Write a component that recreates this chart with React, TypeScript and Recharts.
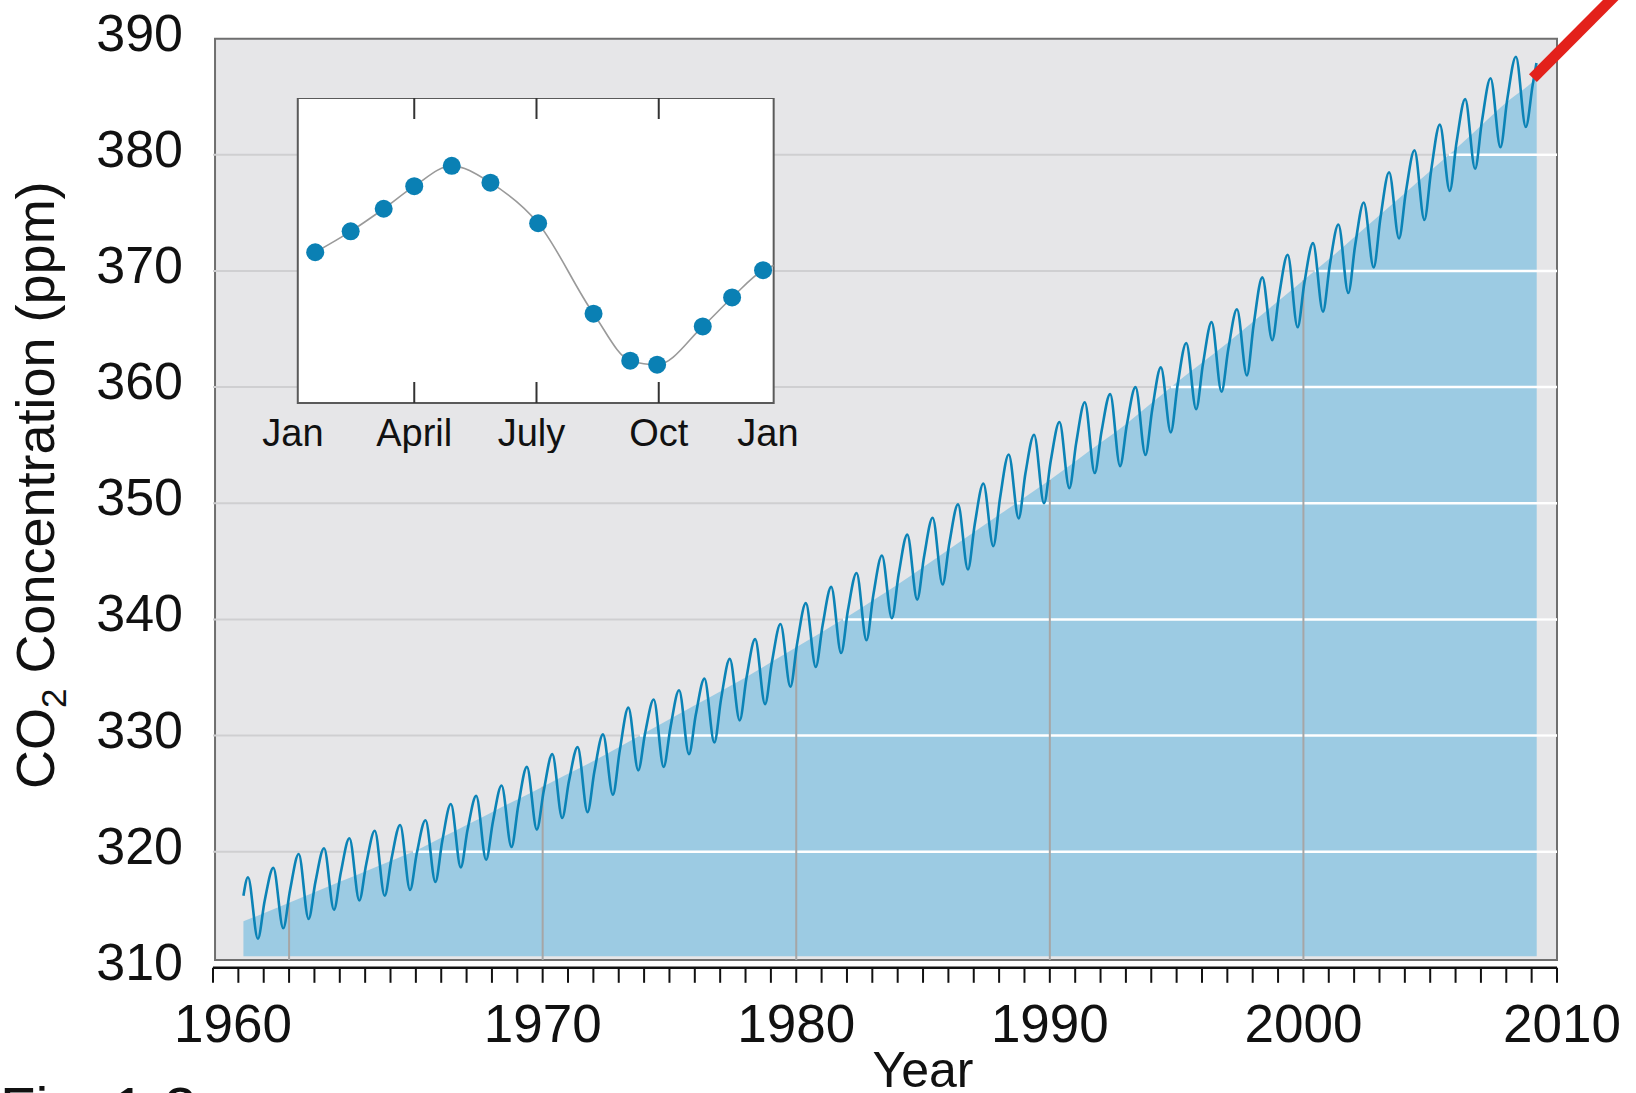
import React from 'react';
import {
  ComposedChart,
  LineChart,
  Line,
  Area,
  XAxis,
  YAxis,
  CartesianGrid,
  ReferenceArea,
  ReferenceLine,
} from 'recharts';

const FONT = '"Liberation Sans", Arial, Helvetica, sans-serif';
const BG = '#e6e6e8';
const FILL = '#9ccbe3';
const LINE = '#0b83b6';
const DOT = '#0a80b4';
const GRID_GRAY = '#cfcfd1';
const VGRID = '#a6a6a6';
const FRAME = '#6f6f6f';

// Monthly CO2 record (ppm)
const startPoint = { x: 1958.2, v: 316.2 };
const endPoint = { x: 2009.19, v: 387.9 };
const firstYear = 1958;
// May maxima, 1958-2008
const mayPeaks = [
  317.8, 318.6, 319.8, 320.3, 321.15, 321.8, 322.3, 322.7, 324.1, 324.8,
  325.7, 327.3, 328.4, 329.0, 330.1, 332.4, 333.1, 333.9, 334.9, 336.6,
  338.3, 339.6, 341.4, 342.8, 344.0, 345.5, 347.3, 348.75, 349.9, 351.7,
  354.2, 355.9, 357.0, 358.7, 359.4, 360.0, 361.7, 363.8, 365.6, 366.7,
  369.45, 371.4, 372.4, 374.0, 375.9, 378.5, 380.4, 382.6, 384.8, 386.6,
  388.45,
];
// October minima, 1958-2008
const octLows = [
  312.5, 313.4, 314.2, 315.0, 315.8, 316.2, 316.7, 317.4, 318.65, 319.3,
  320.4, 321.9, 322.9, 323.4, 324.9, 327.0, 327.3, 328.4, 329.4, 331.3,
  332.7, 334.2, 335.9, 337.1, 338.2, 340.1, 341.7, 343.0, 344.3, 346.3,
  348.7, 350.0, 351.3, 352.6, 353.2, 354.15, 356.1, 358.1, 359.6, 361.0,
  364.05, 365.15, 366.5, 368.1, 370.3, 372.8, 374.4, 376.9, 378.8, 380.65,
  382.4,
];
// January values, 1959-2009
const janValues = [
  315.8, 316.7, 317.4, 318.2, 318.9, 319.4, 319.9, 320.9, 321.9, 322.6,
  324.0, 325.2, 326.1, 326.9, 328.7, 330.2, 330.7, 331.8, 333.2, 335.0,
  336.3, 338.0, 339.5, 340.8, 342.1, 343.9, 345.4, 346.6, 348.2, 350.5,
  352.6, 353.7, 355.2, 356.2, 356.8, 358.1, 360.2, 362.0, 363.3, 365.4,
  367.9, 369.0, 370.5, 372.2, 374.6, 376.8, 378.7, 381.1, 382.9, 384.8,
  386.0,
];

// Smooth trend drawn as the shaded area
const fillYears = [1958.2, ...Array.from({ length: 51 }, (_, i) => 1959 + i), 2009.2];
const fillTop = [
  314.0, 314.7, 315.6, 316.5, 317.4, 318.3, 319.2, 320.1, 321.2, 322.3,
  323.4, 324.5, 325.6, 326.7, 327.8, 329.0, 330.2, 331.4, 332.6, 333.8,
  335.0, 336.3, 337.6, 338.9, 340.2, 341.6, 343.0, 344.5, 346.0, 347.5,
  349.0, 350.5, 352.0, 353.6, 355.2, 356.8, 358.6, 360.4, 362.1, 363.8,
  365.6, 367.4, 369.2, 371.0, 372.9, 374.8, 376.7, 378.6, 380.5, 382.5,
  384.5, 386.2, 386.6,
];
const fillBase = 311;

const yTicks = [310, 320, 330, 340, 350, 360, 370, 380, 390];
const gridLevels = [320, 330, 340, 350, 360, 370, 380];
const decades = [1960, 1970, 1980, 1990, 2000];
const xTicks = Array.from({ length: 54 }, (_, i) => 1957 + i);

// Inset: average seasonal cycle
const insetMonths = [0.57, 1.44, 2.25, 3.0, 3.92, 4.87, 6.04, 7.4, 8.3, 8.96, 10.08, 10.8, 11.56];
const insetValues = [371.6, 373.4, 375.35, 377.3, 379.05, 377.6, 374.1, 366.3, 362.25, 361.9, 365.2, 367.7, 370.05];
const insetTail = { m: 11.82, v: 370.45 };
const insetTicks = [0, 3, 6, 9, 12];
const insetTickLabels = ['Jan', 'April', 'July', 'Oct', 'Jan'];

const lineRows: { x: number; v: number }[] = [startPoint];
mayPeaks.forEach((p, i) => {
  const yr = firstYear + i;
  if (i > 0) lineRows.push({ x: yr + 0.04, v: janValues[i - 1] });
  lineRows.push({ x: yr + 0.38, v: p });
  lineRows.push({ x: yr + 0.77, v: octLows[i] });
});
lineRows.push({ x: 2009.04, v: janValues[janValues.length - 1] });
lineRows.push(endPoint);

const fillRows = fillYears.map((x, i) => ({ x, v: fillTop[i] }));

const crossing = (level: number) => {
  for (let i = 1; i < fillTop.length; i++) {
    if (fillTop[i] >= level) {
      const t = (level - fillTop[i - 1]) / (fillTop[i] - fillTop[i - 1]);
      return fillYears[i - 1] + t * (fillYears[i] - fillYears[i - 1]);
    }
  }
  return 2010;
};
const fillAt = (year: number) => fillTop[fillYears.indexOf(year)];

const insetRows = [
  ...insetMonths.map((m, i) => ({ m, curve: insetValues[i], dot: insetValues[i] })),
  { m: insetTail.m, curve: insetTail.v },
];

const YTick = ({ x, y, payload }: any) => (
  <text x={x} y={y} dy={12} textAnchor="end" fontSize={52} fontFamily={FONT} fill="#111">
    {payload.value}
  </text>
);

const XTick = ({ x, y, payload }: any) => {
  const v = payload.value;
  if (v % 10 !== 0) return <g />;
  const shift = v === 1960 ? -56 : v === 2010 ? 5 : 0;
  return (
    <text x={x + shift} y={y} dy={59} textAnchor="middle" fontSize={53} fontFamily={FONT} fill="#111">
      {v}
    </text>
  );
};

const YTitle = ({ viewBox }: any) => {
  const cx = viewBox.x + 54;
  const cy = viewBox.y + viewBox.height / 2 - 18;
  return (
    <text
      x={cx}
      y={cy}
      transform={`rotate(-90 ${cx} ${cy})`}
      textAnchor="middle"
      fontSize={54}
      fontFamily={FONT}
      fill="#111"
    >
      CO<tspan fontSize={35} dy={12}>2</tspan>
      <tspan dy={-12}> Concentration (ppm)</tspan>
    </text>
  );
};

const XTitle = ({ viewBox }: any) => (
  <g>
    <text
      x={viewBox.x + viewBox.width / 2 + 38}
      y={viewBox.y + 119}
      textAnchor="middle"
      fontSize={50}
      fontFamily={FONT}
      fill="#111"
    >
      Year
    </text>
    <text x={0} y={viewBox.y + 160} fontSize={58} fontFamily={FONT} fill="#111">
      Fig. 1-3
    </text>
  </g>
);

const INSET_PLOT_H = 305;
const INSET_PAD = 40;

const InsetTick = ({ x, y, payload }: any) => {
  const v = payload.value;
  const idx = insetTicks.indexOf(v);
  const inner = v > 0 && v < 12;
  const dx = v === 12 ? -13 : v === 6 ? -5 : v === 0 ? 1 : 0;
  return (
    <g>
      {inner && (
        <>
          <line x1={x} x2={x} y1={y} y2={y - 21} stroke="#333" strokeWidth={2} />
          <line x1={x} x2={x} y1={y - INSET_PLOT_H} y2={y - INSET_PLOT_H + 21} stroke="#333" strokeWidth={2} />
        </>
      )}
      <text x={x + dx} y={y} dy={43} textAnchor="middle" fontSize={38} fontFamily={FONT} fill="#111">
        {insetTickLabels[idx]}
      </text>
    </g>
  );
};

export default function App() {
  return (
    <div style={{ position: 'absolute', left: 0, top: 0, width: 1636, height: 1093, background: '#fff' }}>
      <ComposedChart width={1636} height={1093} margin={{ top: 38.7, right: 79, bottom: 0, left: 0 }}>
        <ReferenceArea
          x1={1957.08}
          x2={2010}
          y1={310.67}
          y2={390}
          fill={BG}
          fillOpacity={1}
          stroke={FRAME}
          strokeWidth={2}
          zIndex={-150}
        />
        <CartesianGrid vertical={false} horizontalValues={gridLevels} stroke={GRID_GRAY} strokeWidth={2} />
        <XAxis
          type="number"
          dataKey="x"
          domain={[1957, 2010]}
          ticks={xTicks}
          interval={0}
          height={125.2}
          tickSize={15}
          tickMargin={0}
          axisLine={{ stroke: '#111', strokeWidth: 2.5 }}
          tickLine={{ stroke: '#111', strokeWidth: 2 }}
          tick={<XTick />}
          label={<XTitle />}
        />
        <YAxis
          type="number"
          domain={[310, 390]}
          ticks={yTicks}
          interval={0}
          width={213}
          tickSize={0}
          tickMargin={30}
          axisLine={false}
          tickLine={false}
          tick={<YTick />}
          label={<YTitle />}
        />
        <Area
          data={fillRows}
          dataKey="v"
          type="monotone"
          baseValue={fillBase}
          stroke="none"
          fill={FILL}
          fillOpacity={1}
          isAnimationActive={false}
          zIndex={100}
        />
        {gridLevels.map((lv) => (
          <ReferenceLine
            key={`w${lv}`}
            segment={[{ x: crossing(lv), y: lv }, { x: 2010, y: lv }]}
            stroke="#ffffff"
            strokeWidth={2.5}
            zIndex={150}
          />
        ))}
        {decades.map((d) => (
          <ReferenceLine
            key={`d${d}`}
            segment={[{ x: d, y: 310.67 }, { x: d, y: fillAt(d) }]}
            stroke={VGRID}
            strokeWidth={2}
            zIndex={150}
          />
        ))}
        <Line
          data={lineRows}
          dataKey="v"
          type="monotone"
          stroke={LINE}
          strokeWidth={2.6}
          dot={false}
          isAnimationActive={false}
          zIndex={400}
        />
        <ReferenceLine
          segment={[{ x: 2009.05, y: 386.6 }, { x: 2014.06, y: 397.6 }]}
          stroke="#e3211b"
          strokeWidth={11}
          ifOverflow="visible"
          zIndex={450}
        />
      </ComposedChart>

      <div style={{ position: 'absolute', left: 291.6 - INSET_PAD, top: 98.3 }}>
        <LineChart
          width={489 + 2 * INSET_PAD}
          height={355}
          data={insetRows}
          margin={{ top: 0, right: INSET_PAD, bottom: 0, left: INSET_PAD }}
        >
          <YAxis hide domain={[358.6, 384.9]} />
          <ReferenceArea
            x1={0.142}
            x2={11.82}
            y1={358.6}
            y2={384.9}
            fill="#ffffff"
            fillOpacity={1}
            stroke="#5a5a5a"
            strokeWidth={2}
          />
          <XAxis
            type="number"
            dataKey="m"
            domain={[0, 12]}
            ticks={insetTicks}
            interval={0}
            height={50}
            tickSize={0}
            tickMargin={0}
            axisLine={false}
            tickLine={false}
            tick={<InsetTick />}
          />
          <Line dataKey="curve" type="monotone" stroke="#9a9a9a" strokeWidth={1.6} dot={false} isAnimationActive={false} />
          <Line
            dataKey="dot"
            stroke="none"
            dot={{ r: 9, fill: DOT, stroke: 'none' }}
            isAnimationActive={false}
          />
        </LineChart>
      </div>
    </div>
  );
}
